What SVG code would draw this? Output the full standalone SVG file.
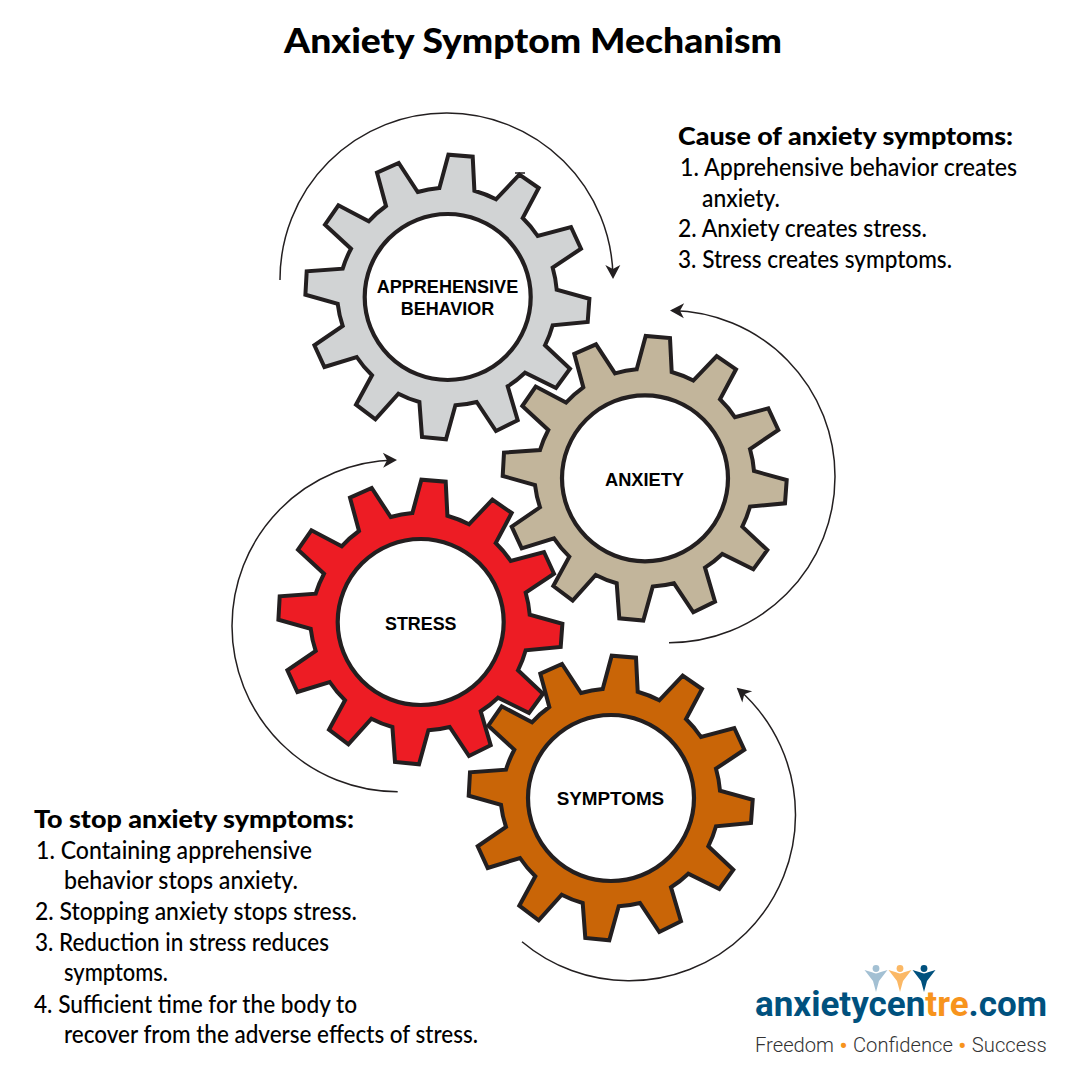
<svg xmlns="http://www.w3.org/2000/svg" width="1080" height="1080" viewBox="0 0 1080 1080">
<style>
.gear{stroke:#231f20;stroke-width:4;stroke-linejoin:miter;stroke-miterlimit:6}
.hole{fill:#fff;stroke:#231f20;stroke-width:4.200}
.label{font:bold 18px "Liberation Sans",Arial,sans-serif;fill:#000;text-anchor:start}
.arc{fill:none;stroke:#231f20;stroke-width:1.500;marker-end:url(#head)}
.h{font:900 24px Lato,"Open Sans",sans-serif;fill:#000}
.b{font:500 24px Lato,"Open Sans",sans-serif;fill:#000}
.t{font:900 34px Lato,"Open Sans",sans-serif;fill:#000}
</style>
<defs>
<marker id="head" markerUnits="userSpaceOnUse" markerWidth="18" markerHeight="18" viewBox="-1 -9 18 18" refX="12" refY="0" orient="auto"><path d="M0,-7.500L14,0L0,7.500L4,0Z" fill="#231f20"/></marker>
<path id="gear" d="M-8.300,-109L0.700,-142.300L25,-140.300L26.700,-106.300A110,110 0 0 1 48.300,-97.700L71.700,-122.300L91,-109L75,-79A110,110 0 0 1 90,-61L123.300,-70L133.300,-48.300L105,-29.300A110,110 0 0 1 109,-7.300L141.700,1.700L140,25L105,28.300A110,110 0 0 1 97.300,48.300L122.300,71.700L108.300,91L77.300,75.700A110,110 0 0 1 60,89.300L70,123.300L48.300,134L29,105A110,110 0 0 1 7.700,108.300L-1.700,142.300L-25.700,140L-28.300,105A110,110 0 0 1 -49.300,96.700L-72.300,122.300L-91.700,107.700L-75.700,78.300A110,110 0 0 1 -91,60L-123.300,70L-133.300,48.300L-105,29A110,110 0 0 1 -110,6.700L-142.300,-2.300L-141,-25.700L-105,-28.300A110,110 0 0 1 -96.700,-48.300L-122.700,-72.300L-109.300,-91.700L-79,-75.700A110,110 0 0 1 -61.700,-91L-70.700,-124.300L-49,-134L-30,-105A110,110 0 0 1 -8.300,-109Z"/>
<path id="person" d="M-11.500,1.500L-4,3.800Q0,6 4,3.800L11.500,1.500L3,12.500L0,23.500L-3,12.500Z"/>
</defs>
<rect width="1080" height="1080" fill="#fff"/>
<text id="title" class="t" x="284" y="53" textLength="498" lengthAdjust="spacingAndGlyphs">Anxiety Symptom Mechanism</text>

<g id="connectors">
<path class="arc" d="M280,280A166.500,166.500 0 0 1 447,113A166.500,166.500 0 0 1 613,277"/>
<path class="arc" d="M669,642.700A166,166 0 0 0 835,476.500A166,166 0 0 0 672,310.500"/>
<path class="arc" d="M397.700,791.700A166,166 0 0 1 232,626A166,166 0 0 1 395,460"/>
<path class="arc" d="M522,941.700A166,166 0 0 0 628,980.700A166,166 0 0 0 795.500,815A167,167 0 0 0 738.200,689"/>
</g>

<g id="node-apprehensive">
<use href="#gear" class="gear" x="447.700" y="297" fill="#d1d3d4"/>
<path d="M515,173H525" stroke="#231f20" stroke-width="1.500"/>
<circle class="hole" cx="447.700" cy="297" r="83"/>
<text class="label" x="376.700" y="292.500" textLength="141.500" lengthAdjust="spacingAndGlyphs">APPREHENSIVE</text>
<text class="label" x="400.700" y="315" textLength="93.500" lengthAdjust="spacingAndGlyphs">BEHAVIOR</text>
</g>
<g id="node-anxiety">
<use href="#gear" class="gear" x="645" y="478.300" fill="#c2b59b"/>
<circle class="hole" cx="645" cy="478.300" r="83"/>
<text class="label" x="605" y="486" textLength="79" lengthAdjust="spacingAndGlyphs">ANXIETY</text>
</g>
<g id="node-stress">
<use href="#gear" class="gear" x="420.700" y="622" fill="#ed1c24"/>
<circle class="hole" cx="420.700" cy="622" r="83"/>
<text class="label" x="385" y="630" textLength="71.500" lengthAdjust="spacingAndGlyphs">STRESS</text>
</g>
<g id="node-symptoms">
<use href="#gear" class="gear" x="611" y="798" fill="#c96507"/>
<circle class="hole" cx="611" cy="798" r="83"/>
<text class="label" x="556.700" y="805" textLength="107.500" lengthAdjust="spacingAndGlyphs">SYMPTOMS</text>
</g>

<g id="cause-text">
<text class="h" x="678" y="145" textLength="335" lengthAdjust="spacingAndGlyphs">Cause of anxiety symptoms:</text>
<text class="b" x="680" y="176" textLength="337" lengthAdjust="spacingAndGlyphs">1. Apprehensive behavior creates</text>
<text class="b" x="702" y="207" textLength="78" lengthAdjust="spacingAndGlyphs">anxiety.</text>
<text class="b" x="678" y="237" textLength="249" lengthAdjust="spacingAndGlyphs">2. Anxiety creates stress.</text>
<text class="b" x="678" y="268" textLength="274" lengthAdjust="spacingAndGlyphs">3. Stress creates symptoms.</text>
</g>
<g id="stop-text">
<text class="h" x="34" y="828" textLength="320" lengthAdjust="spacingAndGlyphs">To stop anxiety symptoms:</text>
<text class="b" x="36" y="859" textLength="276" lengthAdjust="spacingAndGlyphs">1. Containing apprehensive</text>
<text class="b" x="64" y="889" textLength="234" lengthAdjust="spacingAndGlyphs">behavior stops anxiety.</text>
<text class="b" x="35" y="920" textLength="322" lengthAdjust="spacingAndGlyphs">2. Stopping anxiety stops stress.</text>
<text class="b" x="35" y="951" textLength="294" lengthAdjust="spacingAndGlyphs">3. Reduction in stress reduces</text>
<text class="b" x="64" y="981" textLength="104" lengthAdjust="spacingAndGlyphs">symptoms.</text>
<text class="b" x="34" y="1013" textLength="323" lengthAdjust="spacingAndGlyphs">4. Sufficient time for the body to</text>
<text class="b" x="64" y="1043" textLength="414" lengthAdjust="spacingAndGlyphs">recover from the adverse effects of stress.</text>
</g>
<g id="logo">
<circle cx="876" cy="968.500" r="3.400" fill="#a3c0d3"/><use href="#person" x="876" y="968.500" fill="#a3c0d3"/>
<circle cx="900" cy="968.500" r="3.400" fill="#fbb865"/><use href="#person" x="900" y="968.500" fill="#fbb865"/>
<circle cx="924" cy="968.500" r="3.400" fill="#00517e"/><use href="#person" x="924" y="968.500" fill="#00517e"/>
<text x="755" y="1016" font-family="Roboto,sans-serif" font-weight="700" font-size="35" fill="#00517e">anxietycen<tspan fill="#f7941d">tre</tspan>.com</text>
<text x="755" y="1052" font-family="Roboto,'Liberation Sans',sans-serif" font-weight="300" font-size="20.200" fill="#333">Freedom <tspan fill="#f7941d" font-size="28" dy="2.500">•</tspan><tspan dy="-2.500"> Confidence </tspan><tspan fill="#f7941d" font-size="28" dy="2.500">•</tspan><tspan dy="-2.500"> Success</tspan></text>
</g>
</svg>
